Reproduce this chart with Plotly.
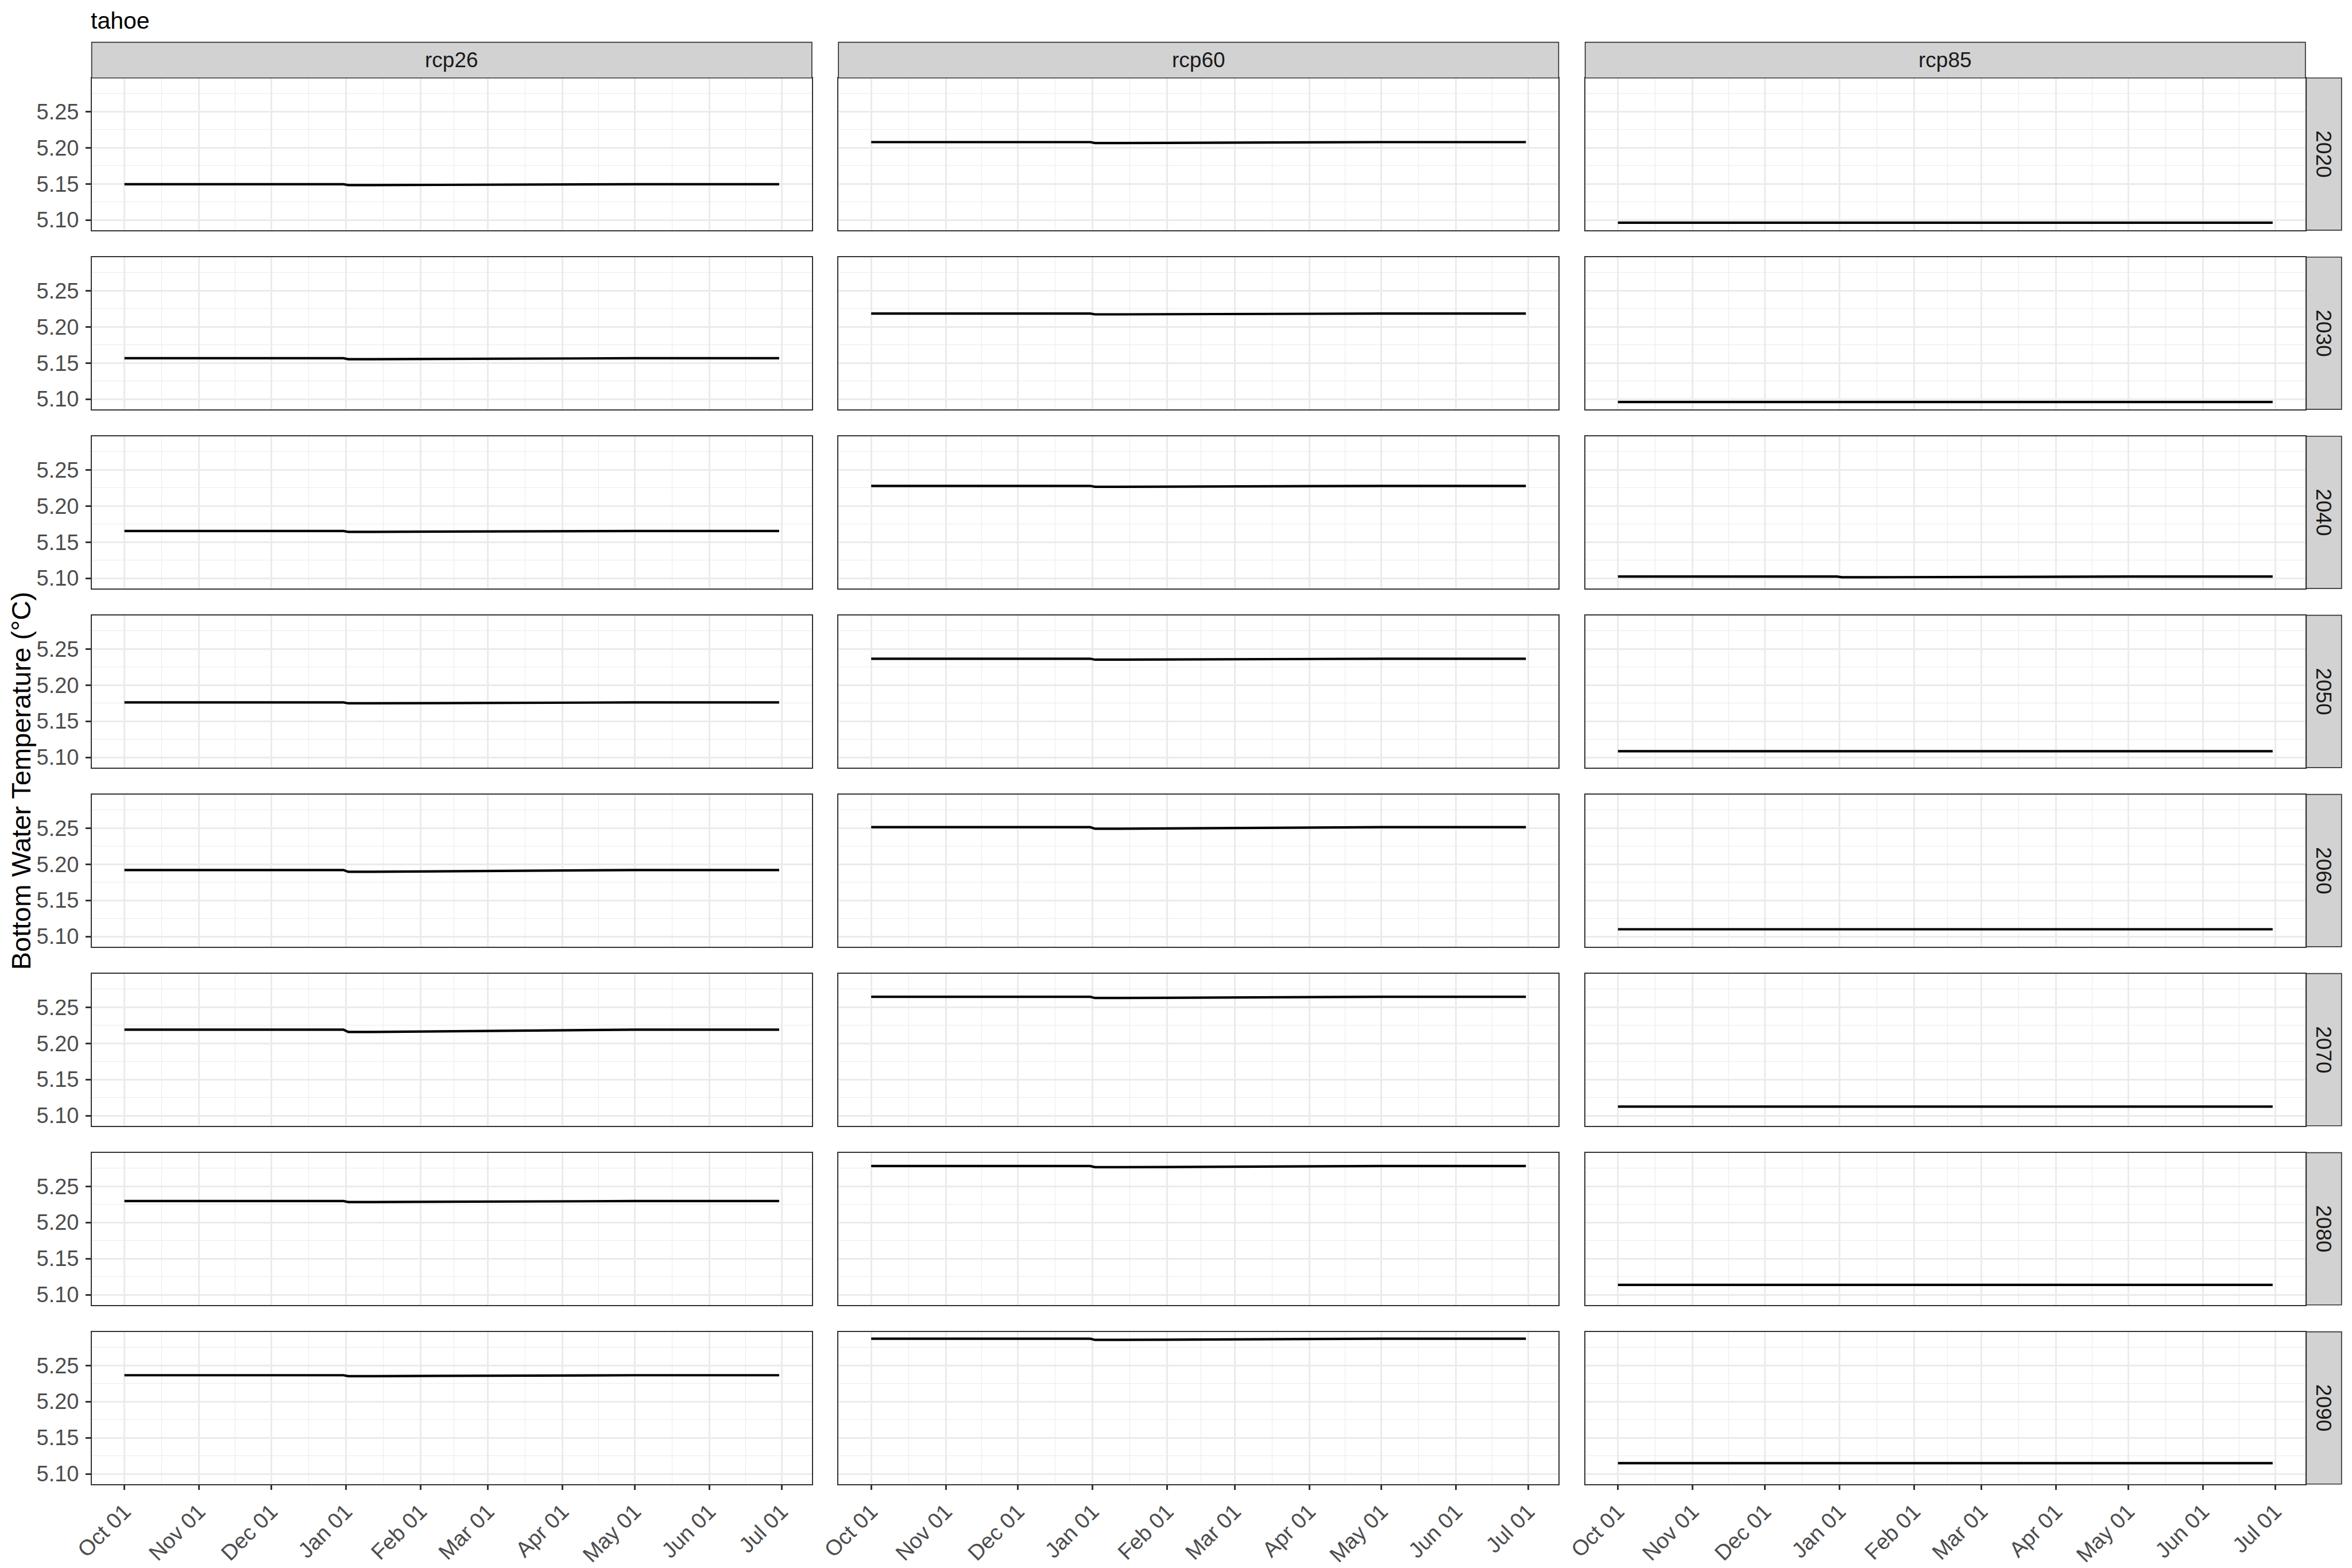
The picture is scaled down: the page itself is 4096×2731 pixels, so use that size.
import plotly.graph_objects as go
import pandas as pd

# ---------------- data ----------------
lake = "tahoe"
scenarios = ["rcp26", "rcp60", "rcp85"]
decades = ["2020", "2030", "2040", "2050", "2060", "2070", "2080", "2090"]

# sample dates of each daily series (water year Oct 1 .. Jun 30)
dates = ["2001-10-01", "2001-12-31", "2002-01-02", "2002-01-12", "2002-05-01", "2002-06-30"]

# level before Jan 01 and the small dip right after Jan 01 (deg C)
rcp26_pre = [5.1495, 5.1566, 5.1654, 5.1760, 5.1920, 5.2190, 5.2296, 5.2365]
rcp26_jan = [5.1483, 5.1553, 5.1642, 5.1748, 5.1895, 5.2158, 5.2283, 5.2352]
rcp60_pre = [5.2078, 5.2184, 5.2278, 5.2365, 5.2513, 5.2644, 5.2781, 5.2870]
rcp60_jan = [5.2065, 5.2173, 5.2265, 5.2352, 5.2491, 5.2628, 5.2765, 5.2854]
rcp85_pre = [5.0962, 5.0960, 5.1023, 5.1085, 5.1100, 5.1125, 5.1137, 5.1148]
rcp85_jan = [5.0956, 5.0955, 5.1014, 5.1080, 5.1095, 5.1120, 5.1132, 5.1143]

month_ticks = ["2001-10-01", "2001-11-01", "2001-12-01", "2002-01-01", "2002-02-01",
               "2002-03-01", "2002-04-01", "2002-05-01", "2002-06-01", "2002-07-01"]
month_labels = ["Oct 01", "Nov 01", "Dec 01", "Jan 01", "Feb 01",
                "Mar 01", "Apr 01", "May 01", "Jun 01", "Jul 01"]
y_ticks = [5.10, 5.15, 5.20, 5.25]
y_labels = ["5.10", "5.15", "5.20", "5.25"]
y_minor = [5.125, 5.175, 5.225, 5.275]

y_title = "Bottom Water Temperature (°C)"

series_pre = {"rcp26": rcp26_pre, "rcp60": rcp60_pre, "rcp85": rcp85_pre}
series_jan = {"rcp26": rcp26_jan, "rcp60": rcp60_jan, "rcp85": rcp85_jan}

# ---------------- geometry / style ----------------
WPX, HPX = 4096, 2731
S = WPX / 5400.0
FONT = "Liberation Sans, Arial, Helvetica, sans-serif"

COL_LEFT = [210.5, 1925.0, 3639.5]   # reference px
PANEL_W = 1653.5
ROW_TOP0 = 179.0
ROW_PITCH = 411.3
PANEL_H = 349.5
STRIP_TOP = 97.0
STRIP_RIGHT_X0 = 5295.0
STRIP_RIGHT_X1 = 5376.0

GRID = "#EBEBEB"
BORDER = "#333333"
STRIP_FILL = "#D2D2D2"


def fx(v):
    return v * S / WPX


def fy(v):
    return 1 - v * S / HPX


# x range: data range with 5% expansion
d = pd.to_datetime(dates)
span = d.max() - d.min()
xr = [(d.min() - span * 0.05).strftime("%Y-%m-%d %H:%M"),
      (d.max() + span * 0.05).strftime("%Y-%m-%d %H:%M")]
mt = pd.to_datetime(month_ticks)
x_minor = [(mt[i] + (mt[i + 1] - mt[i]) / 2).strftime("%Y-%m-%d %H:%M") for i in range(len(mt) - 1)]

all_vals = rcp26_pre + rcp26_jan + rcp60_pre + rcp60_jan + rcp85_pre + rcp85_jan
ymin, ymax = min(all_vals), max(all_vals)
yr = [ymin - 0.05 * (ymax - ymin), ymax + 0.05 * (ymax - ymin)]

fig = go.Figure()
layout = dict(
    width=WPX, height=HPX,
    margin=dict(l=0, r=0, t=0, b=0, pad=0, autoexpand=False),
    paper_bgcolor="white", plot_bgcolor="white",
    showlegend=False,
    font=dict(family=FONT, color="#4D4D4D"),
    hovermode=False,
)
shapes = []
annotations = []


def aid(prefix, k):
    return prefix if k == 1 else f"{prefix}{k}"


for r, dec in enumerate(decades):
    for c, sc in enumerate(scenarios):
        k = r * 3 + c + 1
        pre = series_pre[sc][r]
        jan = series_jan[sc][r]
        yvals = [pre, pre, jan, jan, pre, pre]
        fig.add_trace(go.Scatter(
            x=dates, y=yvals, mode="lines",
            line=dict(color="black", width=4.2),
            xaxis=aid("x", k), yaxis=aid("y", k),
        ))
        x0 = COL_LEFT[c]
        x1 = x0 + PANEL_W
        y0 = ROW_TOP0 + r * ROW_PITCH
        y1 = y0 + PANEL_H
        bottom = (r == len(decades) - 1)
        left = (c == 0)
        layout[aid("xaxis", k)] = dict(
            domain=[fx(x0), fx(x1)], anchor=aid("y", k), type="date", automargin=False,
            range=xr, tickmode="array", tickvals=month_ticks, ticktext=month_labels,
            showticklabels=bottom, ticks="outside" if bottom else "",
            ticklen=8.7, tickwidth=2.9, tickcolor=BORDER, tickangle=-45,
            tickfont=dict(size=38, color="#4D4D4D", family=FONT),
            showgrid=True, gridcolor=GRID, gridwidth=2.8, zeroline=False,
            showline=True, mirror=True, linecolor=BORDER, linewidth=1.7,
            minor=dict(tickvals=x_minor, showgrid=True, gridcolor=GRID, gridwidth=1.4, ticks=""),
            fixedrange=True,
        )
        layout[aid("yaxis", k)] = dict(
            domain=[fy(y1), fy(y0)], anchor=aid("x", k), automargin=False,
            range=yr, tickmode="array", tickvals=y_ticks, ticktext=y_labels,
            showticklabels=left, ticks="outside" if left else "",
            ticklen=8.7, tickwidth=2.9, tickcolor=BORDER, ticklabelstandoff=4,
            tickfont=dict(size=38, color="#4D4D4D", family=FONT),
            showgrid=True, gridcolor=GRID, gridwidth=2.8, zeroline=False,
            showline=True, mirror=True, linecolor=BORDER, linewidth=1.7,
            minor=dict(tickvals=y_minor, showgrid=True, gridcolor=GRID, gridwidth=1.4, ticks=""),
            fixedrange=True,
        )

# top strips
for c, sc in enumerate(scenarios):
    x0 = COL_LEFT[c]
    x1 = x0 + PANEL_W
    shapes.append(dict(type="rect", xref="paper", yref="paper",
                       x0=fx(x0), x1=fx(x1), y0=fy(ROW_TOP0), y1=fy(STRIP_TOP),
                       fillcolor=STRIP_FILL, line=dict(color=BORDER, width=1.7), layer="above"))
    annotations.append(dict(text=sc, xref="paper", yref="paper",
                            x=fx((x0 + x1) / 2), y=fy((STRIP_TOP + ROW_TOP0) / 2),
                            xanchor="center", yanchor="middle", showarrow=False,
                            font=dict(size=37, color="#1A1A1A", family=FONT)))

# right strips
for r, dec in enumerate(decades):
    y0 = ROW_TOP0 + r * ROW_PITCH
    y1 = y0 + PANEL_H
    shapes.append(dict(type="rect", xref="paper", yref="paper",
                       x0=fx(STRIP_RIGHT_X0), x1=fx(STRIP_RIGHT_X1), y0=fy(y1), y1=fy(y0),
                       fillcolor=STRIP_FILL, line=dict(color=BORDER, width=1.7), layer="above"))
    annotations.append(dict(text=dec, xref="paper", yref="paper",
                            x=fx((STRIP_RIGHT_X0 + STRIP_RIGHT_X1) / 2), y=fy((y0 + y1) / 2),
                            xanchor="center", yanchor="middle", showarrow=False, textangle=90,
                            font=dict(size=37, color="#1A1A1A", family=FONT)))

# title
annotations.append(dict(text=lake, xref="paper", yref="paper",
                        x=fx(206), y=fy(47), xanchor="left", yanchor="middle", showarrow=False,
                        font=dict(size=41, color="black", family=FONT)))
# y axis title
bottom_edge = ROW_TOP0 + (len(decades) - 1) * ROW_PITCH + PANEL_H
annotations.append(dict(text=y_title, xref="paper", yref="paper",
                        x=fx(47.5), y=fy((ROW_TOP0 + bottom_edge) / 2),
                        xanchor="center", yanchor="middle", showarrow=False, textangle=-90,
                        font=dict(size=47, color="black", family=FONT)))

layout["shapes"] = shapes
layout["annotations"] = annotations
fig.update_layout(**layout)
fig.write_html("out.html", config={"displayModeBar": False})
